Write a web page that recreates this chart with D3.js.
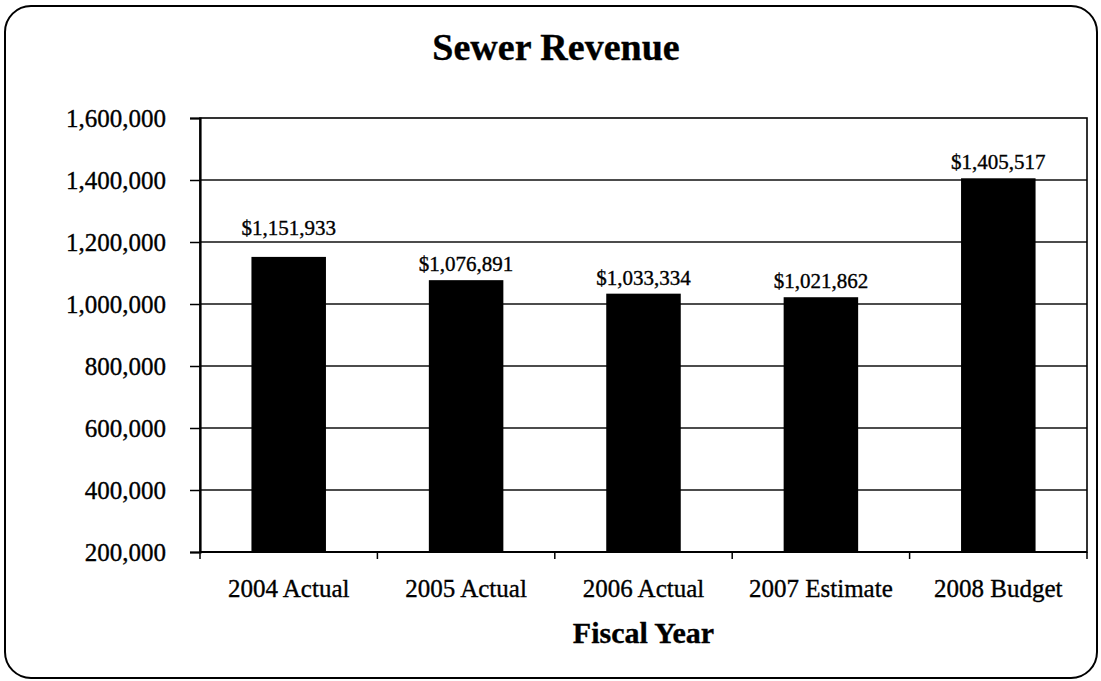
<!DOCTYPE html>
<html>
<head>
<meta charset="utf-8">
<script src="https://cdn.jsdelivr.net/npm/d3@7"></script>
<style>
  html, body { margin: 0; padding: 0; background: #fff; }
  svg { display: block; }
  text { font-family: "Liberation Serif", "Times New Roman", Times, serif; fill: #000; stroke: #000; stroke-width: 0.35px; }
</style>
</head>
<body>
<svg id="chart" width="1101" height="681"></svg>
<script>
// Sewer revenue by fiscal year
const categories = ["2004 Actual", "2005 Actual", "2006 Actual", "2007 Estimate", "2008 Budget"];
const revenue = [1151933, 1076891, 1033334, 1021862, 1405517];
const yTicks = [200000, 400000, 600000, 800000, 1000000, 1200000, 1400000, 1600000];
const chartTitle = "Sewer Revenue";
const xTitle = "Fiscal Year";

const W = 1101, H = 681;
const plot = { left: 200, right: 1087, top: 118, bottom: 552 };

const svg = d3.select("#chart");

// outer rounded frame
svg.append("rect")
  .attr("x", 5).attr("y", 6)
  .attr("width", W - 9).attr("height", H - 9)
  .attr("rx", 26).attr("ry", 26)
  .attr("fill", "#fff").attr("stroke", "#000").attr("stroke-width", 2);

const x = d3.scaleBand()
  .domain(categories)
  .range([plot.left, plot.right])
  .paddingInner(0.58).paddingOuter(0.29);

const y = d3.scaleLinear()
  .domain([200000, 1600000])
  .range([plot.bottom, plot.top]);

const fmt = d3.format(",");

// horizontal gridlines
svg.append("g")
  .selectAll("line")
  .data(yTicks.slice(1, -1))
  .join("line")
  .attr("x1", plot.left).attr("x2", plot.right)
  .attr("y1", d => y(d)).attr("y2", d => y(d))
  .attr("stroke", "#111").attr("stroke-width", 1.4);

// plot area border
svg.append("rect")
  .attr("x", plot.left).attr("y", plot.top)
  .attr("width", plot.right - plot.left).attr("height", plot.bottom - plot.top)
  .attr("fill", "none").attr("stroke", "#000").attr("stroke-width", 1.6);

// bars
svg.append("g")
  .selectAll("rect")
  .data(revenue)
  .join("rect")
  .attr("x", (d, i) => x(categories[i]))
  .attr("width", x.bandwidth())
  .attr("y", d => y(d))
  .attr("height", d => y(200000) - y(d))
  .attr("fill", "#000");

// value labels: sit just above the bar, hopping over a gridline if they would cross it
const labelSize = 21;
function labelBaseline(v) {
  let base = y(v) - 9;
  const top = base - labelSize * 0.7;
  yTicks.forEach(t => {
    const gy = y(t);
    if (gy > top - 2 && gy < base + 3) base = gy - 7;
  });
  return base;
}
svg.append("g")
  .selectAll("text")
  .data(revenue)
  .join("text")
  .attr("x", (d, i) => x(categories[i]) + x.bandwidth() / 2)
  .attr("y", d => labelBaseline(d))
  .attr("text-anchor", "middle")
  .attr("font-size", labelSize)
  .text(d => "$" + fmt(d));

// y axis
const yAxis = d3.axisLeft(y)
  .tickValues(yTicks)
  .tickFormat(fmt)
  .tickSize(10)
  .tickPadding(24);
const gy = svg.append("g")
  .attr("transform", `translate(${plot.left},0)`)
  .call(yAxis);
gy.select(".domain").attr("stroke", "#000").attr("stroke-width", 2.2);
gy.selectAll(".tick line").attr("stroke", "#000").attr("stroke-width", 1.5);
gy.selectAll(".tick text")
  .attr("font-family", "Liberation Serif, Times New Roman, serif")
  .attr("font-size", 25)
  .attr("fill", "#000");

// x axis: tick marks at band boundaries
const bounds = categories.map(c => x(c) - x.step() * x.paddingInner() / 2).concat([plot.right]);
svg.append("g")
  .selectAll("line")
  .data(bounds)
  .join("line")
  .attr("x1", d => d).attr("x2", d => d)
  .attr("y1", plot.bottom).attr("y2", plot.bottom + 7)
  .attr("stroke", "#000").attr("stroke-width", 1.5);

svg.append("line")
  .attr("x1", plot.left).attr("x2", plot.right)
  .attr("y1", plot.bottom).attr("y2", plot.bottom)
  .attr("stroke", "#000").attr("stroke-width", 2);

svg.append("g")
  .selectAll("text")
  .data(categories)
  .join("text")
  .attr("x", d => x(d) + x.bandwidth() / 2)
  .attr("y", 597)
  .attr("text-anchor", "middle")
  .attr("font-size", 25)
  .text(d => d);

// titles
svg.append("text")
  .attr("x", 556).attr("y", 60)
  .attr("text-anchor", "middle")
  .attr("font-size", 38)
  .attr("font-weight", "bold")
  .text(chartTitle);

svg.append("text")
  .attr("x", (plot.left + plot.right) / 2).attr("y", 643)
  .attr("text-anchor", "middle")
  .attr("font-size", 30)
  .attr("font-weight", "bold")
  .text(xTitle);
</script>
</body>
</html>
